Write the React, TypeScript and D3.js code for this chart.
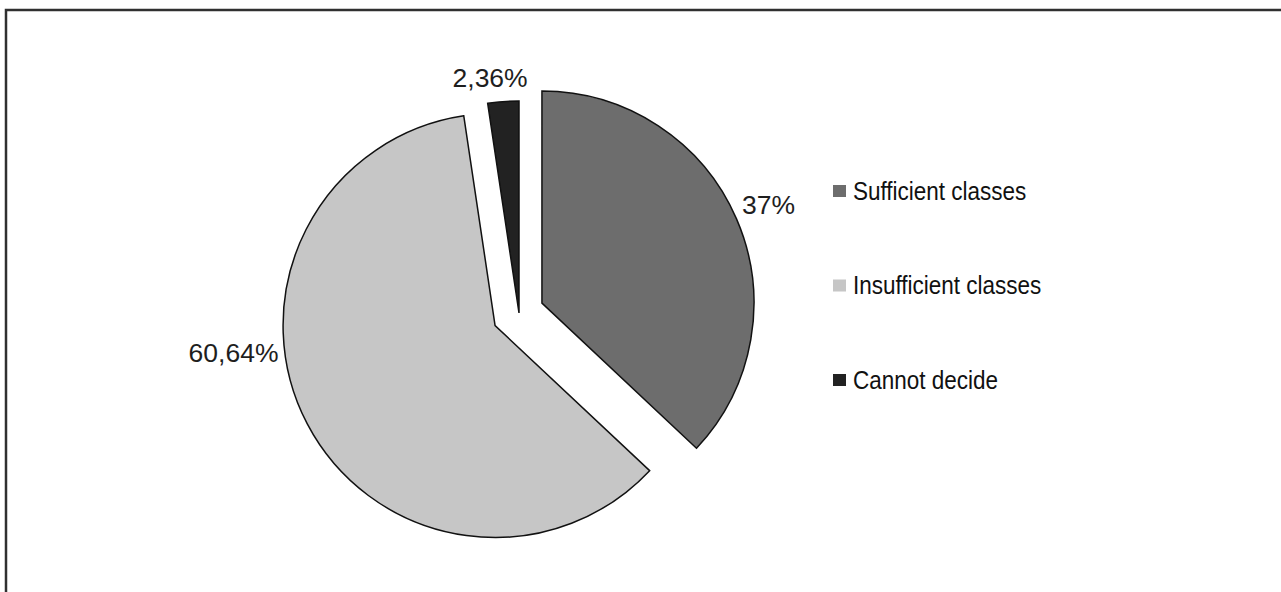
import React from "react";
import * as d3 from "d3";

const categories = ["Sufficient classes", "Insufficient classes", "Cannot decide"];
const shares = [37, 60.64, 2.36];
const shareLabels = ["37%", "60,64%", "2,36%"];
const fills = ["#6d6d6d", "#c6c6c6", "#222222"];

const W = 1281;
const H = 592;
const CX = 519;
const CY = 313;
const R = 212;
// how far each wedge is pulled out from the centre
const explode = [25, 27, 0];
// where each percentage sits: angle (deg, clockwise from 12 o'clock), radius, anchor
const labelSpots: [number, number, string][] = [
  [66.6, 247, "middle"],
  [264, 263, "middle"],
  [353, 237, "middle"],
];

export default function App() {
  const pie = d3
    .pie<number>()
    .sort(null)
    .value((d) => d)
    .startAngle(0)
    .endAngle(2 * Math.PI);
  const arcs = pie(shares);
  const arcGen = d3.arc<d3.PieArcDatum<number>>().innerRadius(0).outerRadius(R);

  const font = "'Liberation Sans', Arial, Helvetica, sans-serif";
  const legendY = d3.scalePoint<string>().domain(categories).range([191, 380]);

  return (
    <svg
      width={W}
      height={H}
      style={{ position: "absolute", left: 0, top: 0, background: "#fff" }}
    >
      <rect x={6} y={10} width={W + 20} height={H + 20} fill="#fff" stroke="#303030" strokeWidth={2.5} />
      {arcs.map((a, i) => {
        const mid = (a.startAngle + a.endAngle) / 2;
        const ox = CX + explode[i] * Math.sin(mid);
        const oy = CY - explode[i] * Math.cos(mid);
        const [ang, rad, anchor] = labelSpots[i];
        const t = (ang * Math.PI) / 180;
        const lx = ox + rad * Math.sin(t);
        const ly = oy - rad * Math.cos(t);
        return (
          <g key={categories[i]}>
            <path
              d={arcGen(a) || ""}
              transform={`translate(${ox},${oy})`}
              fill={fills[i]}
              stroke="#111"
              strokeWidth={1.5}
              strokeLinejoin="miter"
            />
            <text
              x={lx}
              y={ly}
              textAnchor={anchor}
              dominantBaseline="central"
              fontFamily={font}
              fontSize={26.5}
              fill="#1e1e1e"
            >
              {shareLabels[i]}
            </text>
          </g>
        );
      })}
      {categories.map((c, i) => {
        const y = legendY(c) as number;
        return (
          <g key={c}>
            <rect x={833} y={y - 6} width={13} height={12} fill={fills[i]} />
            <g transform={`translate(853,${y}) scale(0.9,1)`}>
              <text
                x={0}
                y={0}
                dominantBaseline="central"
                fontFamily={font}
                fontSize={25}
                fill="#111"
              >
                {c}
              </text>
            </g>
          </g>
        );
      })}
    </svg>
  );
}
